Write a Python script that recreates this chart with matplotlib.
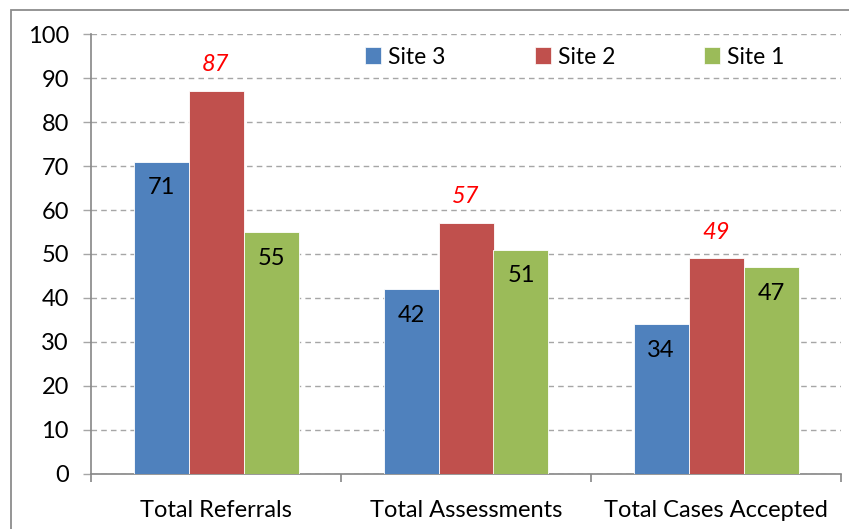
import matplotlib
matplotlib.use("Agg")
import matplotlib.pyplot as plt
from matplotlib.patches import Patch, Rectangle
import numpy as np

categories = ["Total Referrals", "Total Assessments", "Total Cases Accepted"]
series_names = ["Site 3", "Site 2", "Site 1"]
site3 = [71, 42, 34]
site2 = [87, 57, 49]
site1 = [55, 51, 47]
y_ticks = [0, 10, 20, 30, 40, 50, 60, 70, 80, 90, 100]

colors = ["#4F81BD", "#C0504D", "#9BBB59"]
plt.rcParams['font.family'] = ['Lato', 'DejaVu Sans']

W, H = 849, 529
fig = plt.figure(figsize=(W / 100, H / 100), dpi=100)
fig.patch.set_facecolor("white")

# outer chart border (frame extends beyond the image on right/bottom)
fig.patches.append(Rectangle((11 / W, -0.1), 1.2, (H - 10) / H + 0.1,
                             transform=fig.transFigure, fill=False,
                             edgecolor="#8C8C8C", linewidth=1.3))

ax = fig.add_axes([91 / W, 1 - 474 / H, 750 / W, 440 / H])
x = np.arange(len(categories))
bw = 0.22
fs = 17
series = [site3, site2, site1]
offsets = [-bw, 0, bw]
containers = []
for vals, off, col, name in zip(series, offsets, colors, series_names):
    bc = ax.bar(x + off, vals, width=bw, color=col, edgecolor="white",
                linewidth=0.6, label=name, zorder=3)
    containers.append(bc)

for k, bc in enumerate(containers):
    for rect in bc:
        v = rect.get_height()
        cx = rect.get_x() + rect.get_width() / 2
        if k == 1:
            ax.annotate(f"{v:g}", xy=(cx, v), xytext=(0, 19), textcoords="offset points",
                        ha="center", va="center", color="#FF0000", style="italic",
                        fontsize=fs, zorder=5)
        else:
            ax.annotate(f"{v:g}", xy=(cx, v), xytext=(0, -19), textcoords="offset points",
                        ha="center", va="center", color="black",
                        fontsize=fs, zorder=5)

ax.set_xlim(-0.5, 2.5)
ax.set_ylim(0, 100)
ax.set_yticks(y_ticks)
ax.set_yticklabels([str(t) for t in y_ticks], fontsize=fs)
ax.yaxis.grid(True, linestyle=(0, (4, 3)), color="#A6A6A6", linewidth=1.0, zorder=0)
ax.set_axisbelow(True)

ax.set_xticks([-0.5, 0.5, 1.5, 2.5])
ax.set_xticklabels([])
ax.set_xticks(x, minor=True)
ax.set_xticklabels(categories, minor=True, fontsize=fs)
ax.tick_params(axis="x", which="minor", length=0, pad=19)
ax.tick_params(axis="x", which="major", length=6, color="#868686", width=1.2, direction="out")
ax.tick_params(axis="y", length=6, color="#A6A6A6", width=1.0, direction="out", pad=10)

for s in ["top", "right"]:
    ax.spines[s].set_visible(False)
for s in ["left", "bottom"]:
    ax.spines[s].set_color("#868686")
    ax.spines[s].set_linewidth(1.2)

handles = [Patch(facecolor=c, edgecolor="white", linewidth=0.5) for c in colors]
leg = fig.legend(handles, series_names, loc="center left",
                 bbox_to_anchor=(365 / W, 1 - 57 / H), ncol=3, frameon=False,
                 fontsize=16.5, handlelength=0.7, handleheight=0.7,
                 handletextpad=0.3, columnspacing=3.9, borderpad=0, borderaxespad=0)

fig.savefig("out.png", dpi=100, facecolor="white")
